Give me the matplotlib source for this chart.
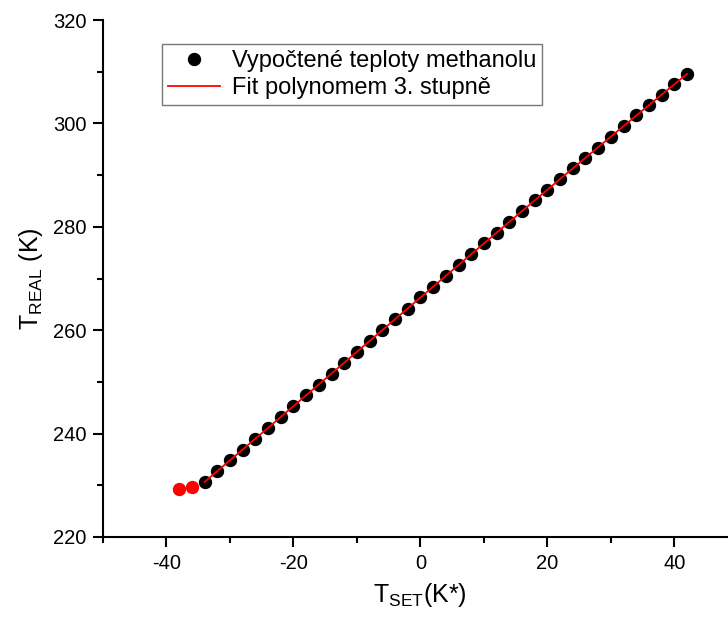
import numpy as np
import matplotlib
matplotlib.use("Agg")
import matplotlib.pyplot as plt
from matplotlib.ticker import MultipleLocator

plt.rcParams["font.family"] = ["Liberation Sans", "DejaVu Sans"]
plt.rcParams["mathtext.fontset"] = "custom"
plt.rcParams["mathtext.rm"] = "Liberation Sans"
plt.rcParams["mathtext.it"] = "Liberation Sans"
plt.rcParams["axes.unicode_minus"] = False

# nastavená teplota (K*) a vypočtená skutečná teplota (K)
t_set = [-34, -32, -30, -28, -26, -24, -22, -20, -18, -16, -14, -12, -10,
         -8, -6, -4, -2, 0, 2, 4, 6, 8, 10, 12, 14, 16, 18, 20, 22, 24,
         26, 28, 30, 32, 34, 36, 38, 40, 42]
t_real = [230.65, 232.75, 234.85, 236.9, 239.0, 241.1, 243.25, 245.3,
          247.4, 249.5, 251.6, 253.7, 255.8, 257.95, 260.05, 262.1, 264.2,
          266.4, 268.4, 270.55, 272.7, 274.75, 276.8, 278.85, 280.9, 283.1,
          285.15, 287.2, 289.2, 291.3, 293.35, 295.35, 297.4, 299.5, 301.55,
          303.6, 305.6, 307.6, 309.6]

# body vyřazené z fitu
t_set_out = [-38, -36]
t_real_out = [229.3, 229.6]

coef = np.polyfit(t_set, t_real, 3)
x_fit = np.linspace(min(t_set), max(t_set), 300)
y_fit = np.polyval(coef, x_fit)

fig = plt.figure(figsize=(7.28, 6.19), dpi=100)
ax = fig.add_axes([0.1415, 0.1325, 0.872, 0.835])

ax.plot(t_set, t_real, "o", color="black", markersize=8.6,
        label="Vypočtené teploty methanolu", zorder=2)
ax.plot(t_set_out, t_real_out, "o", color="red", markersize=8.6, zorder=2)
ax.plot(x_fit, y_fit, color="red", linewidth=1.3,
        label="Fit polynomem 3. stupně", zorder=3)

ax.set_xlim(-50, 50)
ax.set_ylim(220, 320)
ax.xaxis.set_major_locator(MultipleLocator(20))
ax.xaxis.set_minor_locator(MultipleLocator(10))
ax.yaxis.set_major_locator(MultipleLocator(20))
ax.yaxis.set_minor_locator(MultipleLocator(10))

for side in ["top", "right"]:
    ax.spines[side].set_visible(False)
for side in ["left", "bottom"]:
    ax.spines[side].set_linewidth(1.5)

ax.tick_params(which="major", direction="out", length=7, width=1.5,
               labelsize=14.5, pad=5)
ax.tick_params(which="minor", direction="out", length=4, width=1.5)

ax.set_xlabel(r"T$_{\mathrm{SET}}$(K*)", fontsize=18, labelpad=6)
ax.set_ylabel(r"T$_{\mathrm{REAL}}$ (K)", fontsize=18, labelpad=6)

leg = ax.legend(loc="upper left", bbox_to_anchor=(0.093, 0.953), fontsize=17,
                frameon=True, fancybox=False, edgecolor="#555555",
                handlelength=2.2, handletextpad=0.5, borderpad=0.25,
                labelspacing=0.2, borderaxespad=0)
leg.get_frame().set_linewidth(1.0)

fig.savefig("out.png", dpi=100)
